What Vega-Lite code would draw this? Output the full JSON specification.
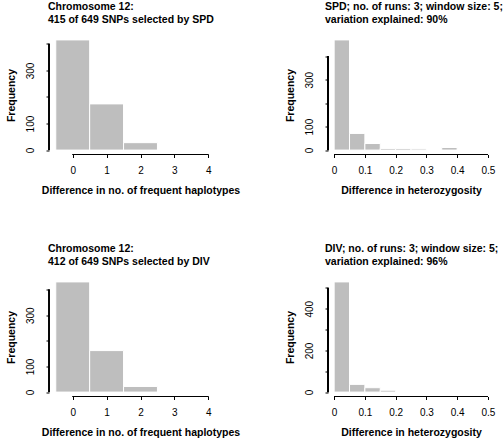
{
  "$schema": "https://vega.github.io/schema/vega-lite/v6.json",
  "background": "white",
  "padding": {"left": 5, "top": 1.5, "right": 0, "bottom": 0},
  "bounds": "flush",
  "columns": 2,
  "spacing": {"column": 96, "row": 123},
  "config": {
    "font": "Liberation Sans",
    "view": {"stroke": null},
    "title": {"anchor": "start", "frame": "group", "fontSize": 10.5, "fontWeight": "bold", "color": "black", "lineHeight": 13.5, "offset": 10, "dx": -1},
    "axis": {"grid": false, "domain": false, "tickColor": "black", "tickSize": 3, "labelColor": "black", "labelFontSize": 10, "titleColor": "black", "titleFontSize": 10.5, "titleFontWeight": "bold", "labelFlush": false, "labelOverlap": false},
    "axisX": {"labelPadding": 8, "titlePadding": 10},
    "axisY": {"labelAngle": -90, "labelAlign": "center", "labelBaseline": "bottom", "labelPadding": 11, "titlePadding": 9}
  },
  "datasets": {
    "spd_hap": [
      {"lo": -0.5, "hi": 0.5, "count": 415},
      {"lo": 0.5, "hi": 1.5, "count": 174},
      {"lo": 1.5, "hi": 2.5, "count": 28},
      {"lo": 2.5, "hi": 3.5, "count": 0},
      {"lo": 3.5, "hi": 4.5, "count": 0}
    ],
    "spd_het": [
      {"lo": 0.0, "hi": 0.05, "count": 470},
      {"lo": 0.05, "hi": 0.1, "count": 71},
      {"lo": 0.1, "hi": 0.15, "count": 28},
      {"lo": 0.15, "hi": 0.2, "count": 7},
      {"lo": 0.2, "hi": 0.25, "count": 7},
      {"lo": 0.25, "hi": 0.3, "count": 5},
      {"lo": 0.3, "hi": 0.35, "count": 0},
      {"lo": 0.35, "hi": 0.4, "count": 11},
      {"lo": 0.4, "hi": 0.45, "count": 0},
      {"lo": 0.45, "hi": 0.5, "count": 0}
    ],
    "div_hap": [
      {"lo": -0.5, "hi": 0.5, "count": 430},
      {"lo": 0.5, "hi": 1.5, "count": 162},
      {"lo": 1.5, "hi": 2.5, "count": 22},
      {"lo": 2.5, "hi": 3.5, "count": 0},
      {"lo": 3.5, "hi": 4.5, "count": 0}
    ],
    "div_het": [
      {"lo": 0.0, "hi": 0.05, "count": 529},
      {"lo": 0.05, "hi": 0.1, "count": 37},
      {"lo": 0.1, "hi": 0.15, "count": 21},
      {"lo": 0.15, "hi": 0.2, "count": 9},
      {"lo": 0.2, "hi": 0.25, "count": 0},
      {"lo": 0.25, "hi": 0.3, "count": 0},
      {"lo": 0.3, "hi": 0.35, "count": 0},
      {"lo": 0.35, "hi": 0.4, "count": 0},
      {"lo": 0.4, "hi": 0.45, "count": 0},
      {"lo": 0.45, "hi": 0.5, "count": 0}
    ]
  },
  "concat": [
    {
      "width": 183, "height": 119,
      "title": {"text": ["Chromosome 12:", "415 of 649 SNPs selected by SPD"]},
      "data": {"name": "spd_hap"},
      "layer": [
        {
          "mark": {"type": "bar", "color": "#bebebe", "stroke": "white", "strokeWidth": 1},
          "encoding": {
            "x": {"field": "lo", "type": "quantitative", "scale": {"domain": [-0.7, 4.7], "nice": false, "zero": false}, "axis": {"values": [0, 1, 2, 3, 4], "labelOverlap": false, "title": "Difference in no. of frequent haplotypes"}},
            "x2": {"field": "hi"},
            "y": {"field": "count", "type": "quantitative", "scale": {"domain": [-16.6, 431.6], "nice": false, "zero": false}, "axis": {"values": [0, 100, 200, 300, 400], "labelOverlap": false, "labelExpr": "datum.value == 200 || datum.value == 400 ? '' : datum.label", "title": "Frequency"}},
            "y2": {"datum": 0}
          }
        },
        {"mark": {"type": "rule", "color": "black", "strokeWidth": 1}, "encoding": {
          "x": {"datum": 0, "type": "quantitative", "axis": {"values": [0, 1, 2, 3, 4], "labelOverlap": false, "title": "Difference in no. of frequent haplotypes"}},
          "x2": {"datum": 4},
          "y": {"datum": -16.6, "type": "quantitative", "axis": {"values": [0, 100, 200, 300, 400], "labelOverlap": false, "labelExpr": "datum.value == 200 || datum.value == 400 ? '' : datum.label", "title": "Frequency"}}}},
        {"mark": {"type": "rule", "color": "black", "strokeWidth": 1}, "encoding": {
          "x": {"datum": -0.7, "type": "quantitative", "axis": {"values": [0, 1, 2, 3, 4], "labelOverlap": false, "title": "Difference in no. of frequent haplotypes"}},
          "y": {"datum": 0, "type": "quantitative", "axis": {"values": [0, 100, 200, 300, 400], "labelOverlap": false, "labelExpr": "datum.value == 200 || datum.value == 400 ? '' : datum.label", "title": "Frequency"}},
          "y2": {"datum": 400}}}
      ]
    },
    {
      "width": 166, "height": 119,
      "title": {"text": ["SPD; no. of runs: 3; window size: 5;", "variation explained: 90%"], "dx": -3},
      "data": {"name": "spd_het"},
      "layer": [
        {
          "mark": {"type": "bar", "color": "#bebebe", "stroke": "white", "strokeWidth": 1},
          "encoding": {
            "x": {"field": "lo", "type": "quantitative", "scale": {"domain": [-0.02, 0.52], "nice": false, "zero": false}, "axis": {"values": [0, 0.1, 0.2, 0.3, 0.4, 0.5], "labelOverlap": false, "format": ".1~f", "title": "Difference in heterozygosity"}},
            "x2": {"field": "hi"},
            "y": {"field": "count", "type": "quantitative", "scale": {"domain": [-18.8, 488.8], "nice": false, "zero": false}, "axis": {"values": [0, 100, 200, 300, 400], "labelOverlap": false, "labelExpr": "datum.value == 200 || datum.value == 400 ? '' : datum.label", "title": "Frequency"}},
            "y2": {"datum": 0}
          }
        },
        {"mark": {"type": "rule", "color": "black", "strokeWidth": 1}, "encoding": {
          "x": {"datum": 0, "type": "quantitative", "axis": {"values": [0, 0.1, 0.2, 0.3, 0.4, 0.5], "labelOverlap": false, "format": ".1~f", "title": "Difference in heterozygosity"}},
          "x2": {"datum": 0.5},
          "y": {"datum": -18.8, "type": "quantitative", "axis": {"values": [0, 100, 200, 300, 400], "labelOverlap": false, "labelExpr": "datum.value == 200 || datum.value == 400 ? '' : datum.label", "title": "Frequency"}}}},
        {"mark": {"type": "rule", "color": "black", "strokeWidth": 1}, "encoding": {
          "x": {"datum": -0.02, "type": "quantitative", "axis": {"values": [0, 0.1, 0.2, 0.3, 0.4, 0.5], "labelOverlap": false, "format": ".1~f", "title": "Difference in heterozygosity"}},
          "y": {"datum": 0, "type": "quantitative", "axis": {"values": [0, 100, 200, 300, 400], "labelOverlap": false, "labelExpr": "datum.value == 200 || datum.value == 400 ? '' : datum.label", "title": "Frequency"}},
          "y2": {"datum": 400}}}
      ]
    },
    {
      "width": 183, "height": 119,
      "title": {"text": ["Chromosome 12:", "412 of 649 SNPs selected by DIV"]},
      "data": {"name": "div_hap"},
      "layer": [
        {
          "mark": {"type": "bar", "color": "#bebebe", "stroke": "white", "strokeWidth": 1},
          "encoding": {
            "x": {"field": "lo", "type": "quantitative", "scale": {"domain": [-0.7, 4.7], "nice": false, "zero": false}, "axis": {"values": [0, 1, 2, 3, 4], "labelOverlap": false, "title": "Difference in no. of frequent haplotypes"}},
            "x2": {"field": "hi"},
            "y": {"field": "count", "type": "quantitative", "scale": {"domain": [-17.2, 447.2], "nice": false, "zero": false}, "axis": {"values": [0, 100, 200, 300, 400], "labelOverlap": false, "labelExpr": "datum.value == 200 || datum.value == 400 ? '' : datum.label", "title": "Frequency"}},
            "y2": {"datum": 0}
          }
        },
        {"mark": {"type": "rule", "color": "black", "strokeWidth": 1}, "encoding": {
          "x": {"datum": 0, "type": "quantitative", "axis": {"values": [0, 1, 2, 3, 4], "labelOverlap": false, "title": "Difference in no. of frequent haplotypes"}},
          "x2": {"datum": 4},
          "y": {"datum": -17.2, "type": "quantitative", "axis": {"values": [0, 100, 200, 300, 400], "labelOverlap": false, "labelExpr": "datum.value == 200 || datum.value == 400 ? '' : datum.label", "title": "Frequency"}}}},
        {"mark": {"type": "rule", "color": "black", "strokeWidth": 1}, "encoding": {
          "x": {"datum": -0.7, "type": "quantitative", "axis": {"values": [0, 1, 2, 3, 4], "labelOverlap": false, "title": "Difference in no. of frequent haplotypes"}},
          "y": {"datum": 0, "type": "quantitative", "axis": {"values": [0, 100, 200, 300, 400], "labelOverlap": false, "labelExpr": "datum.value == 200 || datum.value == 400 ? '' : datum.label", "title": "Frequency"}},
          "y2": {"datum": 400}}}
      ]
    },
    {
      "width": 166, "height": 119,
      "title": {"text": ["DIV; no. of runs: 3; window size: 5;", "variation explained: 96%"], "dx": -3},
      "data": {"name": "div_het"},
      "layer": [
        {
          "mark": {"type": "bar", "color": "#bebebe", "stroke": "white", "strokeWidth": 1},
          "encoding": {
            "x": {"field": "lo", "type": "quantitative", "scale": {"domain": [-0.02, 0.52], "nice": false, "zero": false}, "axis": {"values": [0, 0.1, 0.2, 0.3, 0.4, 0.5], "labelOverlap": false, "format": ".1~f", "title": "Difference in heterozygosity"}},
            "x2": {"field": "hi"},
            "y": {"field": "count", "type": "quantitative", "scale": {"domain": [-21.2, 550.2], "nice": false, "zero": false}, "axis": {"values": [0, 100, 200, 300, 400, 500], "labelOverlap": false, "labelExpr": "datum.value == 100 || datum.value == 300 || datum.value == 500 ? '' : datum.label", "title": "Frequency"}},
            "y2": {"datum": 0}
          }
        },
        {"mark": {"type": "rule", "color": "black", "strokeWidth": 1}, "encoding": {
          "x": {"datum": 0, "type": "quantitative", "axis": {"values": [0, 0.1, 0.2, 0.3, 0.4, 0.5], "labelOverlap": false, "format": ".1~f", "title": "Difference in heterozygosity"}},
          "x2": {"datum": 0.5},
          "y": {"datum": -21.2, "type": "quantitative", "axis": {"values": [0, 100, 200, 300, 400, 500], "labelOverlap": false, "labelExpr": "datum.value == 100 || datum.value == 300 || datum.value == 500 ? '' : datum.label", "title": "Frequency"}}}},
        {"mark": {"type": "rule", "color": "black", "strokeWidth": 1}, "encoding": {
          "x": {"datum": -0.02, "type": "quantitative", "axis": {"values": [0, 0.1, 0.2, 0.3, 0.4, 0.5], "labelOverlap": false, "format": ".1~f", "title": "Difference in heterozygosity"}},
          "y": {"datum": 0, "type": "quantitative", "axis": {"values": [0, 100, 200, 300, 400, 500], "labelOverlap": false, "labelExpr": "datum.value == 100 || datum.value == 300 || datum.value == 500 ? '' : datum.label", "title": "Frequency"}},
          "y2": {"datum": 500}}}
      ]
    }
  ]
}
